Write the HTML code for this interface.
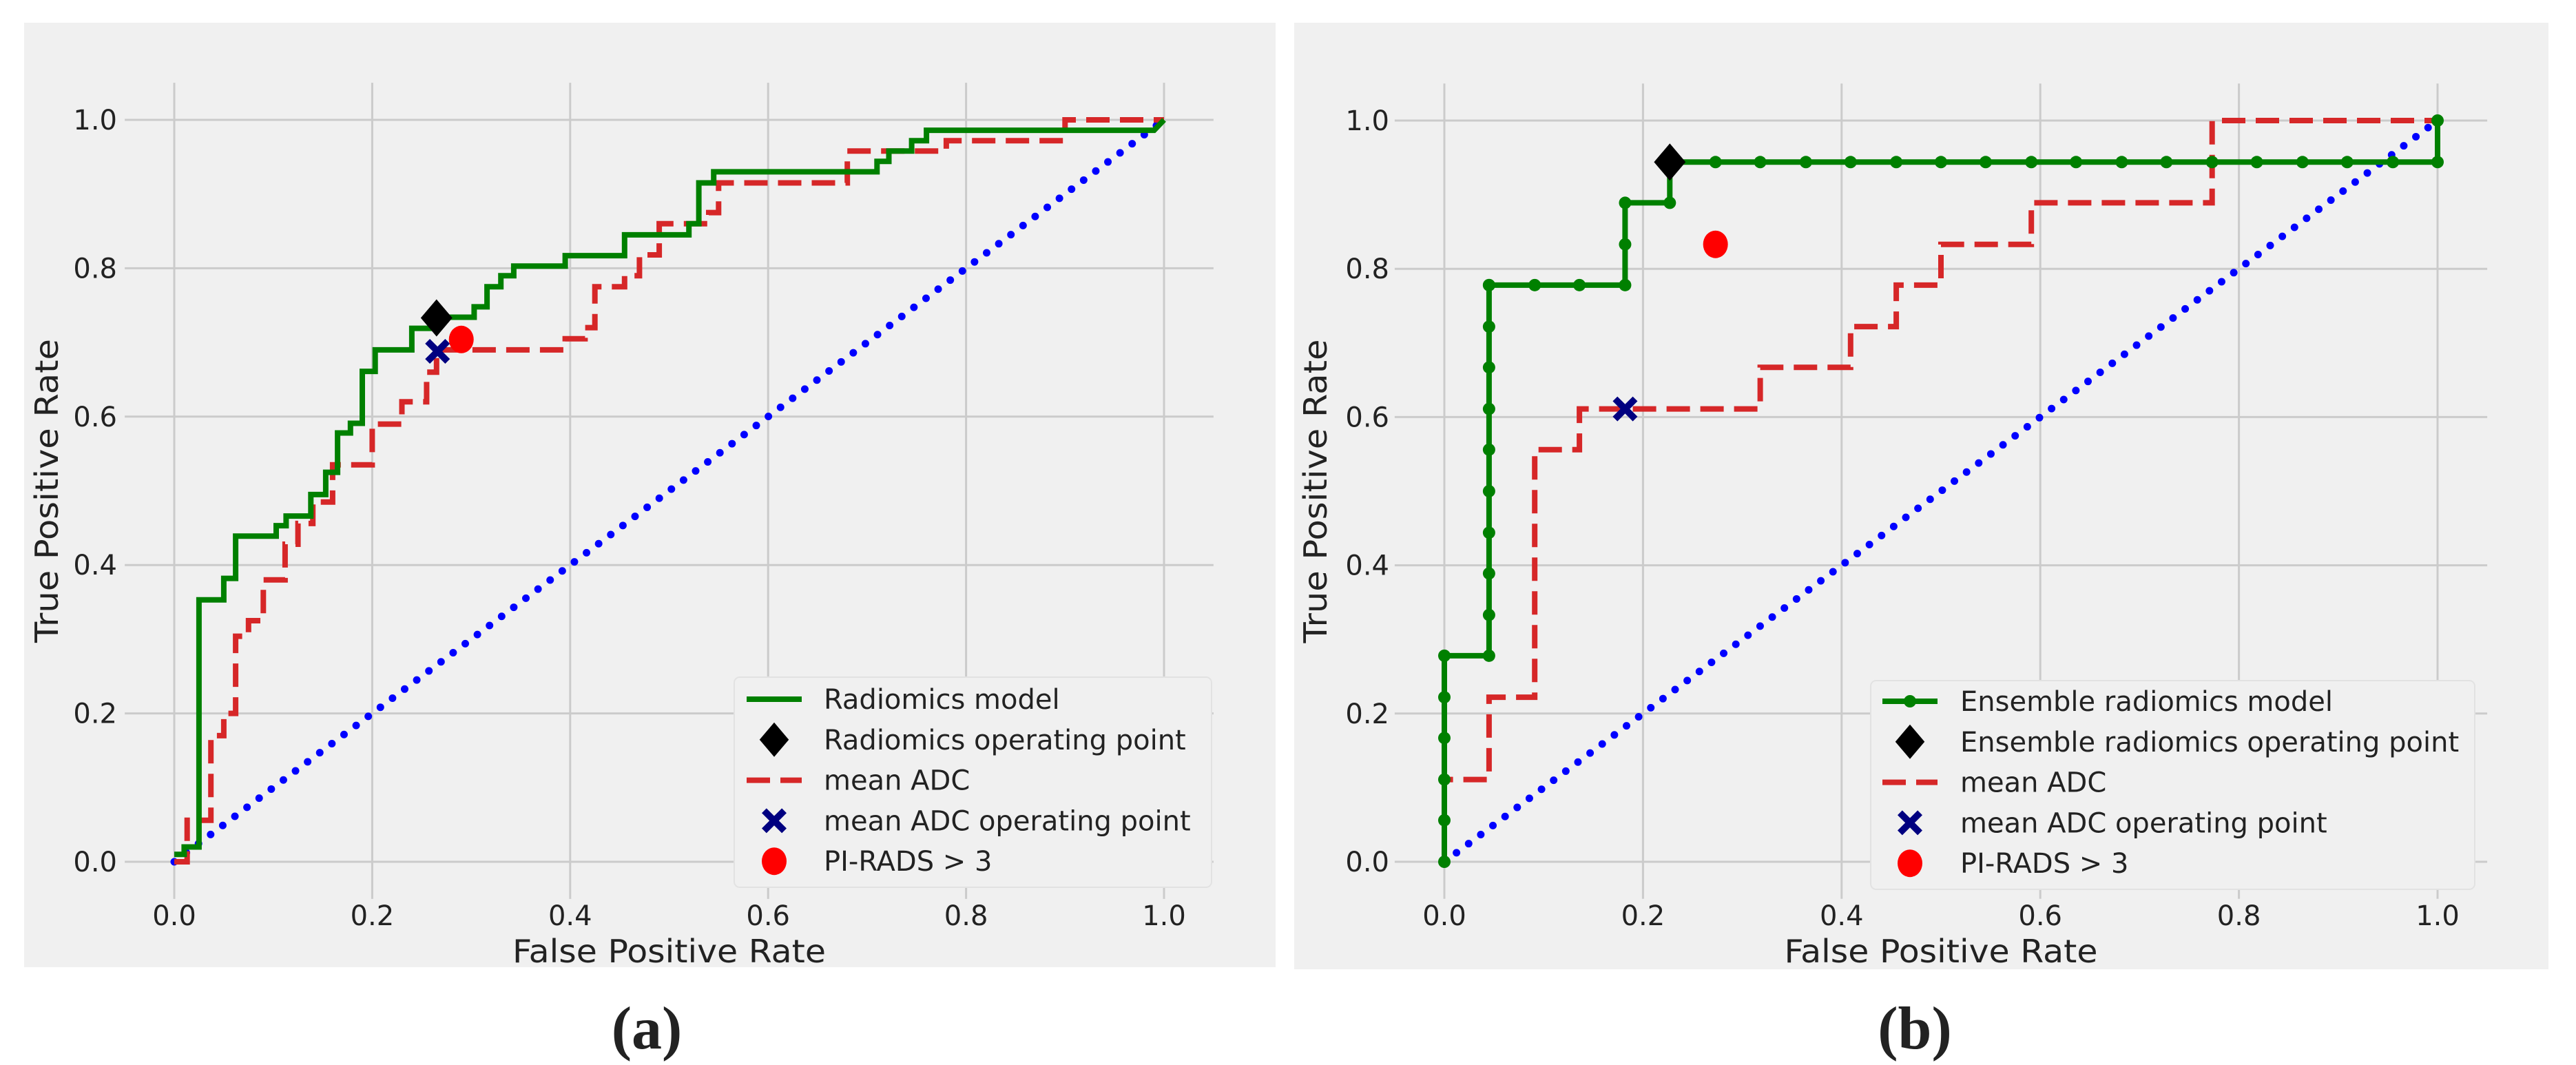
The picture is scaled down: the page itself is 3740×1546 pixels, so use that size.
<!DOCTYPE html>
<html><head><meta charset="utf-8"><style>
html,body{margin:0;padding:0;background:#fff}
svg{display:block}
text{font-family:"DejaVu Sans","Liberation Sans",sans-serif;fill:#222}
</style></head><body>
<svg id="fig" width="3740" height="1546" viewBox="0 0 3740 1546" xmlns="http://www.w3.org/2000/svg">
<rect x="35" y="33" width="1817" height="1371" fill="#f0f0f0"/>
<rect x="1879" y="33" width="1821" height="1374" fill="#f0f0f0"/>
<g id="pa"></g>
<g id="pb"></g>
<text x="939" y="1522" font-size="88" font-weight="bold" text-anchor="middle" style="font-family:'Liberation Serif',serif">(a)</text>
<text x="2780" y="1522" font-size="88" font-weight="bold" text-anchor="middle" style="font-family:'Liberation Serif',serif">(b)</text>
</svg>
<script>
// ---- data ----
const ticks = [0, 0.2, 0.4, 0.6, 0.8, 1.0];
const tickLabels = ["0.0", "0.2", "0.4", "0.6", "0.8", "1.0"];
// Panel (a): radiomics model ROC (step vertices)
const aModelFpr = [0,0.01,0.01,0.025,0.025,0.05,0.05,0.062,0.062,0.103,0.103,0.113,0.113,0.138,0.138,0.153,0.153,0.165,0.165,0.178,0.178,0.19,0.19,0.203,0.203,0.24,0.24,0.265,0.265,0.303,0.303,0.316,0.316,0.33,0.33,0.343,0.343,0.395,0.395,0.455,0.455,0.52,0.52,0.53,0.53,0.545,0.545,0.71,0.71,0.722,0.722,0.745,0.745,0.76,0.76,0.99,1.0];
const aModelTpr = [0.01,0.01,0.02,0.02,0.353,0.353,0.382,0.382,0.439,0.439,0.453,0.453,0.466,0.466,0.495,0.495,0.525,0.525,0.578,0.578,0.591,0.591,0.661,0.661,0.69,0.69,0.719,0.719,0.734,0.734,0.748,0.748,0.775,0.775,0.79,0.79,0.803,0.803,0.817,0.817,0.845,0.845,0.86,0.86,0.915,0.915,0.93,0.93,0.944,0.944,0.958,0.958,0.972,0.972,0.986,0.986,1.0];
const aAdcFpr = [0,0.013,0.013,0.037,0.037,0.05,0.05,0.062,0.062,0.075,0.075,0.09,0.09,0.112,0.112,0.125,0.125,0.14,0.14,0.16,0.16,0.2,0.2,0.23,0.23,0.255,0.255,0.265,0.265,0.395,0.395,0.415,0.415,0.425,0.425,0.455,0.455,0.47,0.47,0.49,0.49,0.54,0.54,0.55,0.55,0.68,0.68,0.78,0.78,0.9,0.9,1.0];
const aAdcTpr = [0,0,0.056,0.056,0.17,0.17,0.2,0.2,0.304,0.304,0.325,0.325,0.38,0.38,0.428,0.428,0.456,0.456,0.485,0.485,0.535,0.535,0.59,0.59,0.62,0.62,0.66,0.66,0.69,0.69,0.705,0.705,0.72,0.72,0.775,0.775,0.79,0.79,0.818,0.818,0.86,0.86,0.875,0.875,0.915,0.915,0.958,0.958,0.972,0.972,1.0,1.0];
const aDiamond = [0.265, 0.733];
const aCross = [0.266, 0.688];
const aCircle = [0.29, 0.704];
// Panel (b): ensemble model ROC (with markers)
const bModelFpr = [0,0,0,0,0,0,0.045,0.045,0.045,0.045,0.045,0.045,0.045,0.045,0.045,0.045,0.045,0.091,0.136,0.182,0.182,0.182,0.227,0.227,0.273,0.318,0.364,0.409,0.455,0.5,0.545,0.591,0.636,0.682,0.727,0.773,0.818,0.864,0.909,0.955,1.0,1.0];
const bModelTpr = [0,0.056,0.111,0.167,0.222,0.278,0.278,0.333,0.389,0.444,0.5,0.556,0.611,0.667,0.722,0.778,0.778,0.778,0.778,0.778,0.833,0.889,0.889,0.944,0.944,0.944,0.944,0.944,0.944,0.944,0.944,0.944,0.944,0.944,0.944,0.944,0.944,0.944,0.944,0.944,0.944,1.0];
const bAdcFpr = [0,0,0.045,0.045,0.091,0.091,0.136,0.136,0.318,0.318,0.409,0.409,0.455,0.455,0.5,0.5,0.591,0.591,0.773,0.773,1.0];
const bAdcTpr = [0,0.111,0.111,0.222,0.222,0.556,0.556,0.611,0.611,0.667,0.667,0.722,0.722,0.778,0.778,0.833,0.833,0.889,0.889,1.0,1.0];
const bDiamond = [0.227, 0.944];
const bCross = [0.182, 0.611];
const bCircle = [0.273, 0.833];
const aLegend = ["Radiomics model","Radiomics operating point","mean ADC","mean ADC operating point","PI-RADS > 3"];
const bLegend = ["Ensemble radiomics model","Ensemble radiomics operating point","mean ADC","mean ADC operating point","PI-RADS > 3"];

const NS = "http://www.w3.org/2000/svg";
function mk(parent, tag, attrs){const e=document.createElementNS(NS,tag);for(const k in attrs)e.setAttribute(k,attrs[k]);parent.appendChild(e);return e;}

function panel(g, cfg){
  const X = v => cfg.x0 + v*cfg.ux;
  const Y = v => cfg.y0 - v*cfg.uy;
  const left = X(-0.05), right = X(1.05), top = Y(1.05), bottom = Y(-0.05);
  ticks.forEach((t,i)=>{
    let l = mk(g,'line',{x1:X(t),x2:X(t),y1:top,y2:bottom,stroke:'#cbcbcb','stroke-width':3});
    
    
    l = mk(g,'line',{x1:left,x2:right,y1:Y(t),y2:Y(t),stroke:'#cbcbcb','stroke-width':3});
    
    
    let tx = mk(g,'text',{x:X(t),y:cfg.y0+92,'font-size':40,'text-anchor':'middle'});
    tx.textContent = tickLabels[i];
    
    
    let ty = mk(g,'text',{x:cfg.tickRight,y:Y(t)+14,'font-size':40,'text-anchor':'end'});
    ty.textContent = tickLabels[i];
    
    
  });
  let xl = mk(g,'text',{x:X(0.5),y:cfg.y0+146,'font-size':46,'text-anchor':'middle',textLength:455,lengthAdjust:'spacingAndGlyphs'});
  xl.textContent='False Positive Rate';
  
  
  let yl = mk(g,'text',{x:0,y:0,'font-size':46,'text-anchor':'middle',textLength:441,lengthAdjust:'spacingAndGlyphs',transform:`translate(${cfg.ylx},${Y(0.5)}) rotate(-90)`});
  yl.textContent='True Positive Rate';
  
  
  let d = mk(g,'line',{x1:X(0),y1:Y(0),x2:X(1),y2:Y(1),stroke:'#0000ff','stroke-width':11,'stroke-dasharray':'0 22','stroke-linecap':'round'});
  
  
  const pts = (fx,fy)=>fx.map((v,i)=>X(v).toFixed(1)+','+Y(fy[i]).toFixed(1)).join(' ');
  let adc = mk(g,'polyline',{points:pts(cfg.adcF,cfg.adcT),fill:'none',stroke:'#d62728','stroke-width':8,'stroke-dasharray':'34 15'});
  
  
  let m = mk(g,'polyline',{points:pts(cfg.mF,cfg.mT),fill:'none',stroke:'#008000','stroke-width':8,'stroke-linejoin':'miter'});
  
  
  if(cfg.dots){
    cfg.mF.forEach((v,i)=>{
      const c = mk(g,'circle',{cx:X(v),cy:Y(cfg.mT[i]),r:9,fill:'#008000'});
      
      
    });
  }
  const diamond=(cx,cy,s)=>`M${cx},${cy-s} L${cx+s*0.85},${cy} L${cx},${cy+s} L${cx-s*0.85},${cy} Z`;
  const cross=(cx,cy,s)=>{const w=s*0.38;return `M${cx-s},${cy-s+w} L${cx-s+w},${cy-s} L${cx},${cy-w} L${cx+s-w},${cy-s} L${cx+s},${cy-s+w} L${cx+w},${cy} L${cx+s},${cy+s-w} L${cx+s-w},${cy+s} L${cx},${cy+w} L${cx-s+w},${cy+s} L${cx-s},${cy+s-w} L${cx-w},${cy} Z`;};
  let p = mk(g,'path',{d:diamond(X(cfg.dia[0]),Y(cfg.dia[1]),27),fill:'#000'});
  
  
  p = mk(g,'path',{d:cross(X(cfg.crs[0]),Y(cfg.crs[1]),18),fill:'#000080'});
  
  
  p = mk(g,'ellipse',{cx:X(cfg.cir[0]),cy:Y(cfg.cir[1]),rx:18,ry:20,fill:'#ff0000'});
  
  
  const L = cfg.leg;
  const lg = mk(g,'g',{});
  
  
  mk(lg,'rect',{x:L.x,y:L.y,width:L.w,height:L.h,rx:8,fill:'#f0f0f0',stroke:'#e2e2e2','stroke-width':2});
  const hx0=L.hx, hx1=L.hx+80, hc=L.hx+40;
  cfg.labels.forEach((lab,i)=>{
    const ry = L.r0 + i*58.8;
    if(i===0){
      mk(lg,'line',{x1:hx0,x2:hx1,y1:ry,y2:ry,stroke:'#008000','stroke-width':8});
      if(cfg.dots){mk(lg,'circle',{cx:hc,cy:ry,r:9,fill:'#008000'});}
    } else if(i===1){
      mk(lg,'path',{d:diamond(hc,ry,25),fill:'#000'});
    } else if(i===2){
      mk(lg,'line',{x1:hx0,x2:hx1,y1:ry,y2:ry,stroke:'#d62728','stroke-width':8,'stroke-dasharray':'34 15'});
    } else if(i===3){
      mk(lg,'path',{d:cross(hc,ry,18),fill:'#000080'});
    } else {
      mk(lg,'ellipse',{cx:hc,cy:ry,rx:18,ry:20,fill:'#ff0000'});
    }
    const t = mk(lg,'text',{x:L.tx,y:ry+14,'font-size':40});
    t.textContent = lab;
    
    
  });
}

panel(document.getElementById('pa'),{x0:253,ux:1437,y0:1251,uy:1077,tickRight:170,ylx:84,
  mF:aModelFpr,mT:aModelTpr,adcF:aAdcFpr,adcT:aAdcTpr,dia:aDiamond,crs:aCross,cir:aCircle,dots:false,labels:aLegend,
  leg:{x:1066,y:983,w:693,h:305,hx:1084,tx:1196,r0:1015}});
panel(document.getElementById('pb'),{x0:2097,ux:1442,y0:1251,uy:1076,tickRight:2017,ylx:1926,
  mF:bModelFpr,mT:bModelTpr,adcF:bAdcFpr,adcT:bAdcTpr,dia:bDiamond,crs:bCross,cir:bCircle,dots:true,labels:bLegend,
  leg:{x:2716,y:988,w:877,h:303,hx:2733,tx:2846,r0:1018}});
</script>
</body></html>
